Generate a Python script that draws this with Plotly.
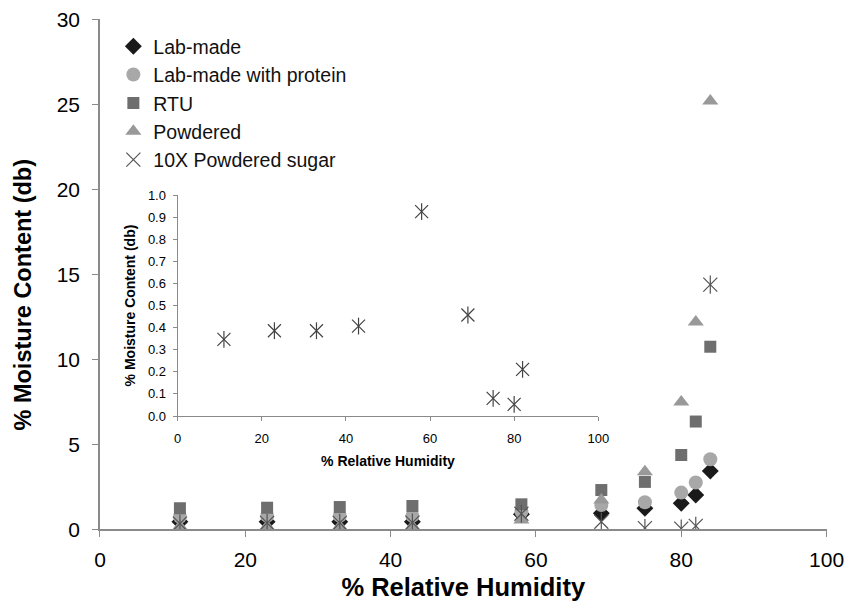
import plotly.graph_objects as go

rh = [11, 23, 33, 43, 58, 69, 75, 80, 82, 84]
lab_made = [0.45, 0.45, 0.45, 0.45, 0.90, 0.95, 1.25, 1.54, 2.03, 3.44]
lab_protein = [0.75, 0.80, 0.80, 0.80, 1.05, 1.44, 1.60, 2.17, 2.76, 4.13]
rtu = [1.25, 1.28, 1.32, 1.38, 1.48, 2.32, 2.80, 4.38, 6.35, 10.75]
powdered = [0.18, 0.18, 0.18, 0.18, 0.56, 1.74, 3.40, 7.50, 12.20, 25.20]
sugar10x = [0.347, 0.386, 0.386, 0.407, 0.925, 0.457, 0.080, 0.053, 0.211, 14.40]

inset_rh = rh[:9]
inset_sugar = sugar10x[:9]

FONT = "Liberation Sans, Arial, sans-serif"
AX = "#8a8a8a"
STAR = "#555555"

fig = go.Figure()

def add(name, y, symbol, color, size, group):
    fig.add_trace(go.Scatter(x=rh, y=y, mode="markers", name=name, legendgroup=group,
                             marker=dict(symbol=symbol, color=color, size=size),
                             xaxis="x", yaxis="y"))

add("Lab-made", lab_made, "diamond", "#1a1a1a", 13, "a")
add("Lab-made with protein", lab_protein, "circle", "#a8a8a8", 14, "b")
add("RTU", rtu, "square", "#6e6e6e", 12, "c")
add("Powdered", powdered, "triangle-up", "#999999", 14, "d")
fig.add_trace(go.Scatter(x=rh, y=sugar10x, mode="markers", name="10X Powdered sugar",
                         legendgroup="e", showlegend=False,
                         marker=dict(symbol="line-ns-open", size=13, color=STAR,
                                     line=dict(color=STAR, width=1.2))))
fig.add_trace(go.Scatter(x=rh, y=sugar10x, mode="markers", name="10X Powdered sugar",
                         legendgroup="e",
                         marker=dict(symbol="x-thin-open", size=14, color=STAR,
                                     line=dict(color=STAR, width=1.2))))

# inset
fig.add_trace(go.Scatter(x=inset_rh, y=inset_sugar, mode="markers", showlegend=False,
                         xaxis="x2", yaxis="y2",
                         marker=dict(symbol="line-ns-open", size=12, color="#444444",
                                     line=dict(color="#444444", width=1.2))))
fig.add_trace(go.Scatter(x=inset_rh, y=inset_sugar, mode="markers", showlegend=False,
                         xaxis="x2", yaxis="y2",
                         marker=dict(symbol="x-thin-open", size=13, color="#444444",
                                     line=dict(color="#444444", width=1.2))))

fig.update_layout(
    width=846, height=601,
    margin=dict(l=0, r=0, t=0, b=0, autoexpand=False),
    paper_bgcolor="white", plot_bgcolor="rgba(0,0,0,0)",
    font=dict(family=FONT, color="black"),
    showlegend=True,
    legend=dict(x=0.134, y=0.955, xanchor="left", yanchor="top",
                traceorder="normal", font=dict(size=19.5, color="#111111"),
                bgcolor="rgba(0,0,0,0)", itemwidth=30, tracegroupgap=0),
    xaxis=dict(domain=[0.1182, 0.977], range=[0, 100], tickvals=[0, 20, 40, 60, 80, 100],
               showgrid=False, zeroline=False, showline=True, linecolor=AX, linewidth=1.5,
               ticks="outside", ticklen=6, tickcolor=AX, tickfont=dict(size=21),
               ticklabelstandoff=5, automargin=False,
               title=dict(text="<b>% Relative Humidity</b>", font=dict(size=25.5), standoff=10),
               anchor="y"),
    yaxis=dict(domain=[0.119, 0.9676], range=[0, 30], tickvals=[0, 5, 10, 15, 20, 25, 30],
               showgrid=False, zeroline=False, showline=True, linecolor=AX, linewidth=1.5,
               ticks="outside", ticklen=6, tickcolor=AX, tickfont=dict(size=21),
               ticklabelstandoff=8, automargin=False,
               anchor="x"),
    xaxis2=dict(domain=[0.2100, 0.7072], range=[0, 100], tickvals=[0, 20, 40, 60, 80, 100],
                showgrid=False, zeroline=False, showline=True, linecolor=AX, linewidth=1.2,
                ticks="outside", ticklen=4, tickcolor=AX, tickfont=dict(size=13),
                ticklabelstandoff=6, automargin=False,
                title=dict(text="<b>% Relative Humidity</b>", font=dict(size=14), standoff=11),
                anchor="y2"),
    yaxis2=dict(domain=[0.3078, 0.6755], range=[0, 1.0],
                tickvals=[0, 0.1, 0.2, 0.3, 0.4, 0.5, 0.6, 0.7, 0.8, 0.9, 1.0],
                tickformat=".1f",
                showgrid=False, zeroline=False, showline=True, linecolor=AX, linewidth=1.2,
                ticks="outside", ticklen=4, tickcolor=AX, tickfont=dict(size=13),
                ticklabelstandoff=4, automargin=False,
                title=dict(text="<b>% Moisture Content (db)</b>", font=dict(size=14), standoff=8),
                anchor="x2"),
    annotations=[dict(text="<b>% Moisture Content (db)</b>", textangle=-90,
                      xref="paper", yref="paper", x=22.5 / 846, y=(601 - 295) / 601,
                      xanchor="center", yanchor="middle", showarrow=False,
                      font=dict(size=23.5, family=FONT, color="black"))],
)

fig.write_html("out.html")
